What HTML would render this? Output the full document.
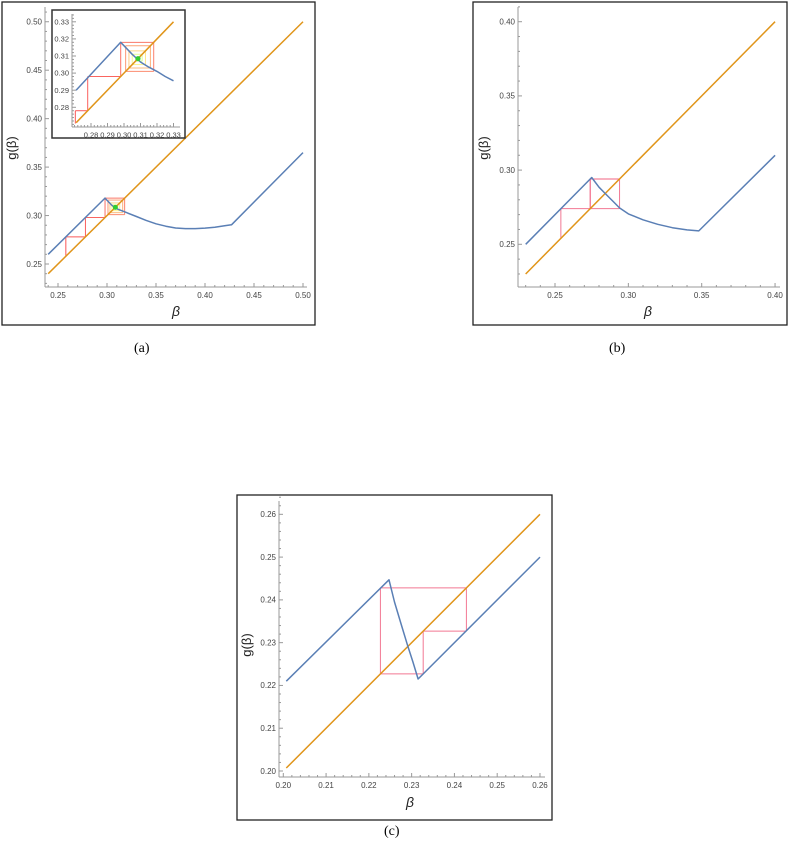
<!DOCTYPE html>
<html><head><meta charset="utf-8">
<style>
body{margin:0;width:790px;height:855px;background:#fff;overflow:hidden;font-family:"Liberation Sans",sans-serif}
svg{position:absolute;left:0;top:0}
.cap{position:absolute;font-family:"Liberation Serif",serif;font-size:14px;color:#000}
</style></head><body>
<svg id="s" width="790" height="855"></svg>
<div class="cap" style="left:134px;top:341px">(a)</div>
<div class="cap" style="left:609px;top:341px">(b)</div>
<div class="cap" style="left:384px;top:824px">(c)</div>
<script>
// ---- data ----
const aXTicks=[0.25,0.30,0.35,0.40,0.45,0.50];
const aYTicks=[0.25,0.30,0.35,0.40,0.45,0.50];
const aDiag=[0.24,0.50];
const aBlueX=[0.24,0.298,0.305,0.31,0.32,0.33,0.34,0.35,0.36,0.37,0.38,0.39,0.40,0.41,0.42,0.427,0.50];
const aBlueY=[0.26,0.318,0.3105,0.307,0.303,0.299,0.295,0.2915,0.289,0.2872,0.2865,0.2865,0.287,0.288,0.2895,0.2905,0.365];
const aCobX=[0.258,0.258,0.278,0.278,0.298,0.298,0.318,0.318,0.301,0.301,0.316,0.316,0.303,0.303,0.313,0.313,0.305,0.305,0.311,0.311,0.307,0.307,0.309];
const aCobY=[0.258,0.278,0.278,0.298,0.298,0.318,0.318,0.301,0.301,0.316,0.316,0.303,0.303,0.313,0.313,0.305,0.305,0.311,0.311,0.307,0.307,0.309,0.309];
const iXTicks=[0.28,0.29,0.30,0.31,0.32,0.33];
const iYTicks=[0.28,0.29,0.30,0.31,0.32,0.33];
const iDiag=[0.271,0.33];
const iBlueX=[0.271,0.298,0.302,0.305,0.31,0.315,0.32,0.325,0.33];
const iBlueY=[0.290,0.318,0.314,0.311,0.3065,0.3035,0.301,0.298,0.2955];
const iCobX=[0.2705,0.2705,0.278,0.278,0.298,0.298,0.318,0.318,0.301,0.301,0.316,0.316,0.303,0.303,0.313,0.313,0.305,0.305,0.311,0.311,0.307,0.307,0.309];
const iCobY=[0.2705,0.278,0.278,0.298,0.298,0.318,0.318,0.301,0.301,0.316,0.316,0.303,0.303,0.313,0.313,0.305,0.305,0.311,0.311,0.307,0.307,0.309,0.309];
const bXTicks=[0.25,0.30,0.35,0.40];
const bYTicks=[0.25,0.30,0.35,0.40];
const bDiag=[0.23,0.40];
const bBlueX=[0.23,0.275,0.28,0.285,0.29,0.294,0.30,0.31,0.32,0.33,0.34,0.348,0.40];
const bBlueY=[0.25,0.295,0.2885,0.2835,0.2785,0.2745,0.2705,0.2665,0.2635,0.2612,0.2597,0.259,0.31];
const bCobX=[0.254,0.254,0.274,0.274,0.294,0.294,0.274,0.274,0.294];
const bCobY=[0.254,0.274,0.274,0.294,0.294,0.274,0.274,0.294,0.294];
const cXTicks=[0.20,0.21,0.22,0.23,0.24,0.25,0.26];
const cYTicks=[0.20,0.21,0.22,0.23,0.24,0.25,0.26];
const cDiag=[0.2007,0.26];
const cBlueX=[0.2007,0.2247,0.226,0.2275,0.229,0.2303,0.2315,0.26];
const cBlueY=[0.221,0.2447,0.2395,0.2345,0.2295,0.2255,0.2215,0.25];
const cCobX=[0.2227,0.2227,0.2428,0.2428,0.2327,0.2327,0.2227];
const cCobY=[0.2227,0.2428,0.2428,0.2327,0.2327,0.2227,0.2227];

const S=document.getElementById('s'),NS='http://www.w3.org/2000/svg';
function el(t,a,p){const e=document.createElementNS(NS,t);for(const k in a)e.setAttribute(k,a[k]);(p||S).appendChild(e);return e;}
function mk(xs,ys){return xs.map((v,i)=>[v,ys[i]]);}
function panel(o){
  const g=el('g',{});
  
  
  const X=v=>o.x0+(v-o.v0)*o.sx, Y=v=>o.y0-(v-o.w0)*o.sy;
  if(o.frame){const r=el('rect',{x:o.frame[0],y:o.frame[1],width:o.frame[2],height:o.frame[3],fill:'#fff',stroke:o.fw?'#333':'#222','stroke-width':o.fw||1.3},g);
    }
  el('line',{x1:o.ax,y1:o.ay,x2:o.axEnd,y2:o.ay,stroke:'#999','stroke-width':1},g);
  el('line',{x1:o.ax,y1:o.ay,x2:o.ax,y2:o.ayTop,stroke:'#999','stroke-width':1},g);
  for(let v=o.xmin;v<=o.xmax+1e-9;v+=o.minor){const px=X(v);if(px<o.ax-0.5)continue;
    const maj=o.xt.some(t=>Math.abs(t-v)<1e-6);el('line',{x1:px,y1:o.ay,x2:px,y2:o.ay-(maj?4:2),stroke:'#999'},g);}
  for(let v=o.ymin;v<=o.ymax+1e-9;v+=o.minor){const py=Y(v);if(py>o.ay+0.5)continue;
    const maj=o.yt.some(t=>Math.abs(t-v)<1e-6);el('line',{x1:o.ax,y1:py,x2:o.ax+(maj?4:2),y2:py,stroke:'#999'},g);}
  o.xt.forEach(v=>{const t=el('text',{x:X(v),y:o.ay+o.fs+3,'font-size':o.fs,'text-anchor':'middle',fill:'#444'},g);t.textContent=v.toFixed(2);
    });
  o.yt.forEach(v=>{const t=el('text',{x:o.ax-3,y:Y(v)+o.fs*0.35,'font-size':o.fs,'text-anchor':'end',fill:'#444'},g);t.textContent=v.toFixed(2);
    });
  if(o.xl){const t=el('text',{x:o.xl[0],y:o.xl[1],'font-size':14,'font-style':'italic','text-anchor':'middle',fill:'#222'},g);t.textContent='β';
    
    const u=el('text',{x:0,y:0,'font-size':13,'text-anchor':'middle',fill:'#222',transform:`translate(${o.yl[0]},${o.yl[1]}) rotate(-90)`},g);u.textContent='g(β)';
    }
  const cb=mk(o.cx,o.cy);
  for(let i=0;i<cb.length-1;i++){
    const f=i/(cb.length-1);
    const col=o.grad?`hsl(${Math.round(f*f*120)},95%,${60+15*Math.min(f*1.3,1)}%)`:'#f06080';
    const l=el('line',{x1:X(cb[i][0]),y1:Y(cb[i][1]),x2:X(cb[i+1][0]),y2:Y(cb[i+1][1]),stroke:col,'stroke-width':1,opacity:0.85},g);
    }
  const d=el('line',{x1:X(o.d[0]),y1:Y(o.d[0]),x2:X(o.d[1]),y2:Y(o.d[1]),stroke:'#e0951a','stroke-width':1.5},g);
  
  const bp=mk(o.bx,o.by).map(p=>X(p[0]).toFixed(1)+','+Y(p[1]).toFixed(1)).join(' ');
  const b=el('polyline',{points:bp,fill:'none',stroke:'#5a7fb5','stroke-width':1.5,'stroke-linejoin':'round'},g);
  
  if(o.grad){const c=el('circle',{cx:X(0.3085),cy:Y(0.3085),r:2.5,fill:'#3c3'},g);
    }
}
panel({name:'plot-a',frame:[2,2,313,323],x0:303,v0:0.5,sx:980,y0:264,w0:0.25,sy:969,ax:45,ay:287,axEnd:307,ayTop:7,
  xmin:0.24,xmax:0.50,ymin:0.23,ymax:0.51,minor:0.01,xt:aXTicks,yt:aYTicks,fs:8,xl:[176,316],yl:[16,148],
  d:aDiag,bx:aBlueX,by:aBlueY,cx:aCobX,cy:aCobY,grad:true});
panel({name:'inset-a',frame:[52,10,133,128],fw:1.5,x0:91,v0:0.28,sx:1650,y0:107.3,w0:0.28,sy:1710,ax:72,ay:127,axEnd:180,ayTop:14,
  xmin:0.27,xmax:0.33,ymin:0.27,ymax:0.335,minor:0.002,xt:iXTicks,yt:iYTicks,fs:7.5,
  d:iDiag,bx:iBlueX,by:iBlueY,cx:iCobX,cy:iCobY,grad:true});
panel({name:'plot-b',frame:[473,2,314,323],x0:555,v0:0.25,sx:1467,y0:244.3,w0:0.25,sy:1484,ax:518,ay:287,axEnd:780,ayTop:7,
  xmin:0.23,xmax:0.40,ymin:0.22,ymax:0.41,minor:0.01,xt:bXTicks,yt:bYTicks,fs:8,xl:[648,316],yl:[488,148],
  d:bDiag,bx:bBlueX,by:bBlueY,cx:bCobX,cy:bCobY,grad:false});
panel({name:'plot-c',frame:[237,495,315,325],x0:283.3,v0:0.20,sx:4278,y0:771,w0:0.20,sy:4278,ax:279,ay:777,axEnd:545,ayTop:501,
  xmin:0.20,xmax:0.26,ymin:0.198,ymax:0.264,minor:0.002,xt:cXTicks,yt:cYTicks,fs:8,xl:[410,807],yl:[251,645],
  d:cDiag,bx:cBlueX,by:cBlueY,cx:cCobX,cy:cCobY,grad:false});
</script>
</body></html>
